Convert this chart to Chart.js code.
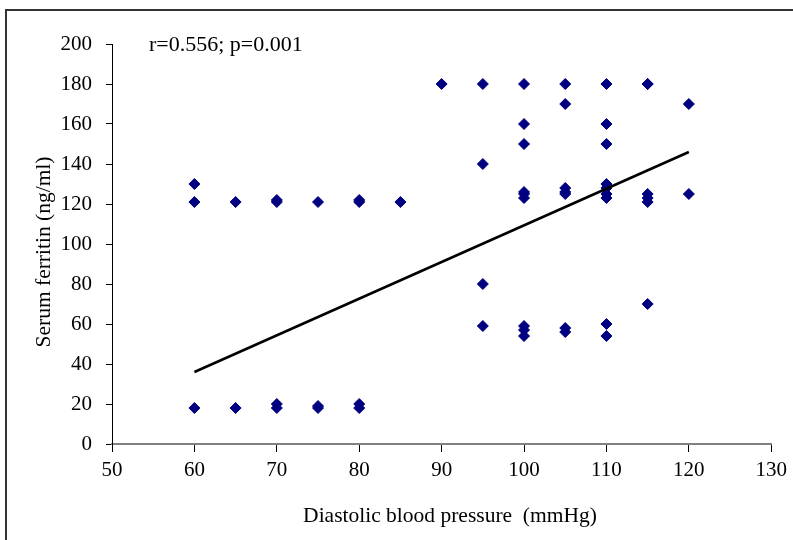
<!DOCTYPE html>
<html>
<head>
<meta charset="utf-8">
<title>Serum ferritin vs diastolic blood pressure</title>
<script src="https://cdn.jsdelivr.net/npm/chart.js@4/dist/chart.umd.min.js"></script>
<style>
  html, body { margin: 0; padding: 0; background: #fff; }
  canvas { display: block; }
</style>
</head>
<body>
<canvas id="chart" width="793" height="540"></canvas>
<script>
// diastolic BP (mmHg) and serum ferritin (ng/ml), one entry per patient
const dbp = [
  60, 60, 60,
  65, 65,
  70, 70, 70, 70,
  75, 75, 75,
  80, 80, 80, 80,
  85,
  90,
  95, 95, 95, 95,
  100, 100, 100, 100, 100, 100, 100, 100, 100,
  105, 105, 105, 105, 105, 105, 105,
  110, 110, 110, 110, 110, 110, 110, 110, 110,
  115, 115, 115, 115, 115, 115,
  120, 120
];
const ferritin = [
  130, 121, 18,
  121, 18,
  122, 121, 20, 18,
  121, 19, 18,
  122, 121, 20, 18,
  121,
  180,
  180, 140, 80, 59,
  180, 160, 150, 126, 125, 123, 59, 57, 54,
  180, 170, 128, 126, 125, 58, 56,
  180, 160, 150, 130, 128, 125, 123, 60, 54,
  180, 180, 125, 123, 121, 70,
  170, 125
];

// regression line end points
const fitX = [60, 120];
const fitY = [36, 146];

const xTicks = [50, 60, 70, 80, 90, 100, 110, 120, 130];
const yTicks = [0, 20, 40, 60, 80, 100, 120, 140, 160, 180, 200];

const statText = "r=0.556; p=0.001";
const xTitle = "Diastolic blood pressure  (mmHg)";
const yTitle = "Serum ferritin (ng/ml)";

const serif = "'Liberation Serif', 'Times New Roman', serif";

const points = dbp.map((x, i) => ({ x: x, y: ferritin[i] }));
const fitLine = fitX.map((x, i) => ({ x: x, y: fitY[i] }));

// white background, outer frame, axis titles and the r / p note
const decor = {
  id: "decor",
  beforeDraw(chart) {
    const ctx = chart.ctx;
    ctx.save();
    ctx.fillStyle = "#fff";
    ctx.fillRect(0, 0, chart.width, chart.height);
    ctx.strokeStyle = "#333";
    ctx.lineWidth = 2;
    ctx.beginPath();
    ctx.moveTo(6, chart.height);
    ctx.lineTo(6, 10);
    ctx.lineTo(chart.width, 10);
    ctx.stroke();
    ctx.restore();
  },
  afterDraw(chart) {
    const ctx = chart.ctx;
    ctx.save();
    ctx.fillStyle = "#000";
    ctx.textBaseline = "middle";
    ctx.font = "22px " + serif;
    ctx.textAlign = "left";
    ctx.fillText(statText, 149, 45);

    ctx.font = "21.5px " + serif;
    ctx.textAlign = "center";
    ctx.fillText(xTitle, 450, 516);

    ctx.translate(44, 252);
    ctx.rotate(-Math.PI / 2);
    ctx.fillText(yTitle, 0, 0);
    ctx.restore();
  }
};

new Chart(document.getElementById("chart"), {
  type: "scatter",
  data: {
    datasets: [
      {
        label: "Patients",
        data: points,
        pointStyle: "rectRot",
        pointRadius: 5.5,
        pointHoverRadius: 5.5,
        backgroundColor: "#000080",
        borderColor: "#000080",
        borderWidth: 1,
        order: 2
      },
      {
        label: "Fit",
        type: "line",
        data: fitLine,
        borderColor: "#000",
        borderWidth: 2.5,
        pointRadius: 0,
        fill: false,
        order: 1
      }
    ]
  },
  options: {
    responsive: false,
    animation: false,
    devicePixelRatio: 1,
    layout: { padding: { left: 0, top: 44, right: 20, bottom: 0 } },
    plugins: {
      legend: { display: false },
      tooltip: { enabled: false }
    },
    scales: {
      x: {
        type: "linear",
        min: 50,
        max: 130,
        afterBuildTicks: (scale) => { scale.ticks = xTicks.map(v => ({ value: v })); },
        afterFit: (scale) => { scale.height = 96; },
        ticks: {
          color: "#000",
          padding: 6,
          font: { family: serif, size: 21 }
        },
        grid: {
          drawOnChartArea: false,
          drawTicks: true,
          tickLength: 8,
          color: "#000",
          lineWidth: 1
        },
        border: { color: "#808080", width: 2 }
      },
      y: {
        type: "linear",
        min: 0,
        max: 200,
        afterBuildTicks: (scale) => { scale.ticks = yTicks.map(v => ({ value: v })); },
        afterFit: (scale) => { scale.width = 112; },
        ticks: {
          color: "#000",
          padding: 14,
          font: { family: serif, size: 21 }
        },
        grid: {
          drawOnChartArea: false,
          drawTicks: true,
          tickLength: 6,
          color: "#000",
          lineWidth: 1
        },
        border: { color: "#000", width: 1 }
      }
    }
  },
  plugins: [decor]
});
</script>
</body>
</html>
